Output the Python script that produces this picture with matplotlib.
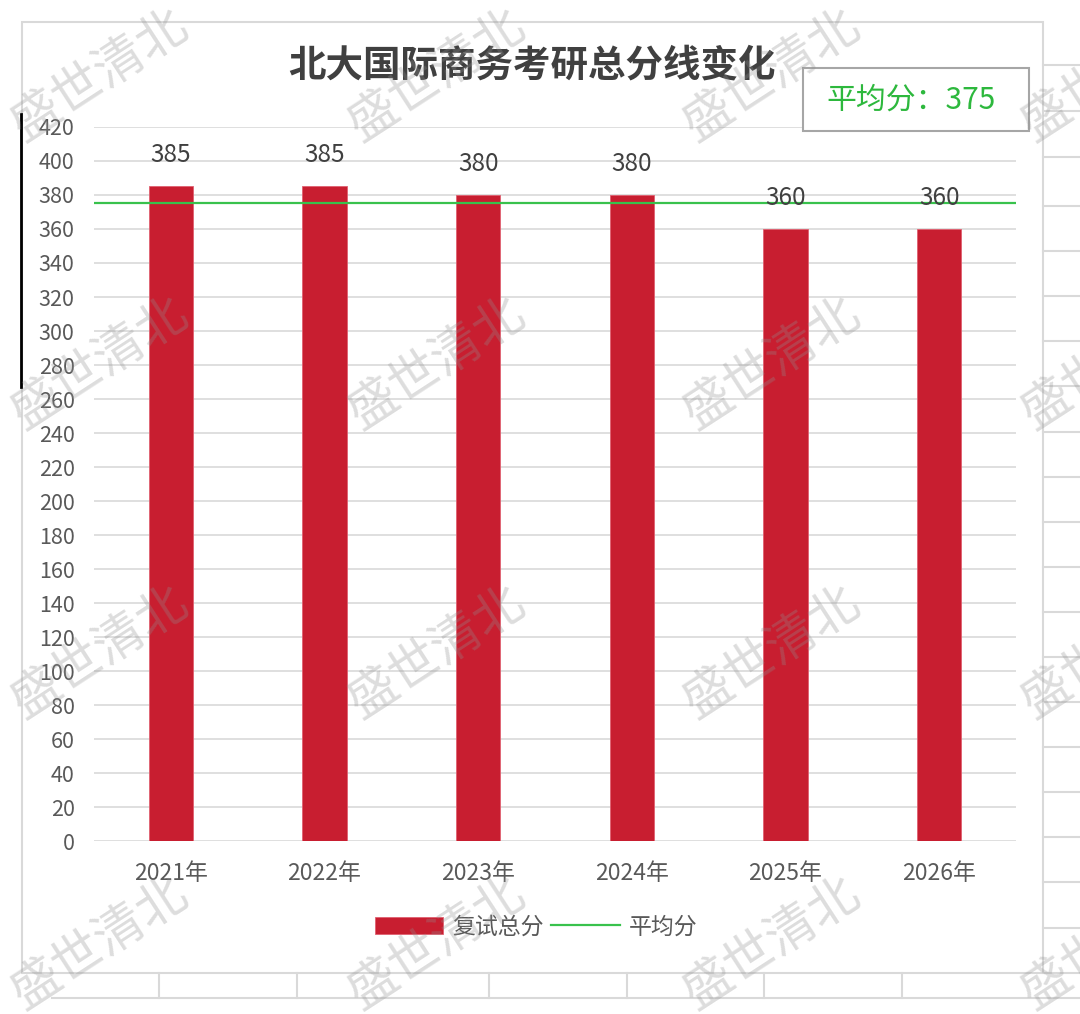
import numpy as np
import matplotlib.pyplot as plt
from matplotlib.patches import Rectangle
from matplotlib.legend_handler import HandlerPatch

plt.rcParams['font.family'] = ['Noto Sans CJK SC', 'DejaVu Sans']

# 数据
years = ['2021年', '2022年', '2023年', '2024年', '2025年', '2026年']
scores = [385, 385, 380, 380, 360, 360]
avg_score = 375
y_ticks = list(range(0, 421, 20))

title = '北大国际商务考研总分线变化'
bar_label = '复试总分'
avg_label = '平均分'
watermark = '盛世清北'

bar_color = '#C81E30'
avg_color = '#38C24C'
grid_color = '#D9D9D9'
text_color = '#595959'

W, H = 1080, 1014
fig = plt.figure(figsize=(W / 100, H / 100), dpi=100)

# 背景：表格线和图表边框（像素坐标）
bg = fig.add_axes([0, 0, 1, 1], zorder=0)
bg.set_xlim(0, W)
bg.set_ylim(H, 0)
bg.axis('off')
bg.add_patch(Rectangle((22, 22), 1043 - 22, 973 - 22, fill=False,
                       edgecolor=grid_color, lw=1.5))
bg.plot([52, W], [998, 998], color=grid_color, lw=1.5)
for x in [159, 297, 489, 627, 764, 902]:
    bg.plot([x, x], [973, 998], color=grid_color, lw=1.5)
for y in [65, 111, 157] + list(np.arange(206, 999, 45.1)):
    bg.plot([1043, W], [y, y], color=grid_color, lw=1.5)
bg.plot([21, 21], [114, 387], color='black', lw=2)

# 主图
ax = fig.add_axes([94 / W, 1 - 841 / H, (1016 - 94) / W, (841 - 127) / H], zorder=2)
ax.set_facecolor('none')
x = np.arange(len(years))
bars = ax.bar(x, scores, width=0.29, color=bar_color, edgecolor='#E06070',
              linewidth=0.6, label=bar_label, zorder=2)
avg_line = ax.axhline(avg_score, color=avg_color, lw=1.6, label=avg_label, zorder=3)

ax.set_xlim(-0.5, len(years) - 0.5)
ax.set_ylim(0, 420)
ax.set_yticks(y_ticks)
ax.set_xticks(x)
ax.set_xticklabels(years)
ax.tick_params(axis='y', length=0, pad=14, labelsize=15.5, labelcolor=text_color)
ax.tick_params(axis='x', length=0, pad=15, labelsize=16.5, labelcolor=text_color)
ax.grid(axis='y', color=grid_color, lw=1.2, zorder=0)
ax.set_axisbelow(True)
for s in ax.spines.values():
    s.set_visible(False)

for b, v in zip(bars, scores):
    ax.annotate(str(v), (b.get_x() + b.get_width() / 2, v), xytext=(0, 31),
                textcoords='offset pixels', ha='center', va='center',
                fontsize=17.5, color='#404040', zorder=4)


def small_patch(legend, orig_handle, xdescent, ydescent, width, height, fontsize):
    return Rectangle((-xdescent, -ydescent - 1), width * 0.76, height + 2)


ax.legend(handles=[bars, avg_line], loc='center',
          bbox_to_anchor=(536 / W, 1 - 927 / H),
          bbox_transform=fig.transFigure, ncol=2, frameon=False,
          fontsize=16.5, labelcolor=text_color, handlelength=3.0,
          handletextpad=0.4, columnspacing=0.3,
          handler_map={Rectangle: HandlerPatch(patch_func=small_patch)})

fig.text(532 / W, 1 - 65 / H, title, ha='center', va='center', fontsize=27,
         fontweight='bold', color='#404040')

# 平均分文本框
bg2 = fig.add_axes([0, 0, 1, 1], zorder=5)
bg2.set_xlim(0, W)
bg2.set_ylim(H, 0)
bg2.axis('off')
bg2.add_patch(Rectangle((803, 68), 1029 - 803, 131 - 68, facecolor='white',
                        edgecolor='#A6A6A6', lw=1.5))
bg2.text(911, 100, f'{avg_label}：{avg_score}', ha='center', va='center',
         fontsize=21.5, color='#2DB83D')

# 水印
for cy in [75, 363, 652, 943]:
    for cx in [100, 437, 772, 1110]:
        bg2.text(cx, cy, watermark, ha='center', va='center', rotation=33,
                 rotation_mode='anchor', fontsize=36, fontweight='light',
                 color='#909090', alpha=0.3)

fig.savefig('out.png', dpi=100)
